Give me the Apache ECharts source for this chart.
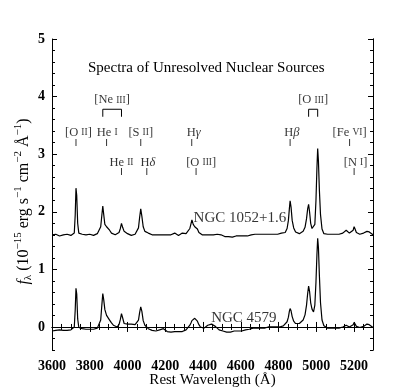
<!DOCTYPE html>
<html><head><meta charset="utf-8">
<script src="https://cdn.jsdelivr.net/npm/echarts@6/dist/echarts.min.js"></script>
<style>html,body{margin:0;padding:0;background:#fff}#c{width:415px;height:389px}</style>
</head><body><div id="c"></div>
<script>
// Rest wavelength (Å)
const wavelength = [
3600,3610,3620,3630,3640,3650,3660,3670,3680,3690,
3700,3710,3718,3723,3727,3731,3736,3742,3750,3760,
3770,3780,3790,3800,3810,3820,3830,3840,3850,3858,
3864,3869,3874,3880,3889,3895,3905,3915,3925,3935,
3945,3955,3962,3968,3974,3982,3990,4000,4010,4020,
4030,4040,4050,4058,4064,4070,4076,4083,4092,4102,
4110,4120,4130,4140,4150,4160,4170,4180,4190,4200,
4210,4220,4230,4240,4250,4260,4270,4280,4290,4300,
4310,4320,4330,4336,4341,4348,4356,4363,4370,4378,
4386,4395,4405,4415,4425,4435,4445,4455,4465,4475,
4485,4495,4505,4515,4525,4535,4545,4555,4565,4575,
4585,4595,4605,4615,4625,4635,4645,4655,4665,4675,
4685,4695,4705,4715,4725,4735,4745,4755,4765,4775,
4785,4795,4805,4815,4825,4835,4845,4852,4857,4861,
4866,4872,4880,4890,4900,4910,4920,4930,4940,4948,
4954,4959,4964,4970,4977,4985,4992,4998,5003,5007,
5011,5016,5022,5030,5040,5050,5060,5070,5080,5090,
5100,5110,5120,5130,5140,5150,5158,5163,5168,5175,
5185,5195,5200,5205,5212,5220,5230,5240,5250,5260,
5268,5274,5280,5290,5300];
// NGC 1052 flux as plotted (offset by +1.6)
const ngc1052 = [
1.60,1.59,1.61,1.60,1.58,1.59,1.60,1.59,1.61,1.60,
1.59,1.60,1.63,1.95,2.41,2.28,1.80,1.63,1.60,1.61,
1.59,1.60,1.60,1.61,1.60,1.59,1.61,1.62,1.65,1.74,
1.94,2.10,1.95,1.78,1.74,1.72,1.68,1.63,1.61,1.60,
1.61,1.64,1.71,1.80,1.73,1.66,1.63,1.62,1.60,1.59,
1.60,1.61,1.63,1.72,1.90,2.05,1.92,1.74,1.66,1.68,
1.63,1.61,1.60,1.59,1.60,1.59,1.60,1.59,1.60,1.59,
1.60,1.59,1.60,1.61,1.63,1.60,1.59,1.61,1.63,1.60,
1.62,1.65,1.71,1.79,1.86,1.78,1.74,1.76,1.70,1.64,
1.61,1.60,1.59,1.60,1.61,1.60,1.59,1.60,1.59,1.61,
1.62,1.60,1.58,1.57,1.58,1.57,1.58,1.56,1.57,1.58,
1.57,1.58,1.57,1.58,1.59,1.58,1.59,1.60,1.62,1.61,
1.63,1.61,1.60,1.61,1.60,1.61,1.62,1.61,1.62,1.61,
1.62,1.61,1.62,1.63,1.62,1.64,1.71,1.85,2.05,2.19,
2.08,1.85,1.72,1.65,1.63,1.62,1.63,1.66,1.73,1.88,
2.05,2.13,2.00,1.80,1.71,1.68,1.78,2.20,2.75,3.10,
2.88,2.38,1.95,1.70,1.62,1.60,1.61,1.60,1.61,1.60,
1.61,1.60,1.61,1.62,1.63,1.64,1.68,1.70,1.66,1.63,
1.64,1.68,1.74,1.70,1.64,1.62,1.61,1.62,1.63,1.64,
1.66,1.67,1.65,1.62,1.60];
// NGC 4579 flux
const ngc4579 = [
-0.07,-0.08,-0.06,-0.07,-0.05,-0.07,-0.06,-0.04,-0.06,-0.03,
-0.05,-0.03,0.00,0.30,0.67,0.57,0.14,-0.01,-0.04,-0.03,
-0.05,-0.04,-0.03,-0.04,-0.05,-0.04,-0.03,-0.02,0.01,0.12,
0.38,0.58,0.47,0.30,0.20,0.17,0.12,0.07,0.03,0.01,
0.00,0.04,0.13,0.23,0.16,0.06,0.04,0.05,0.04,0.05,
0.03,0.04,0.06,0.12,0.25,0.35,0.27,0.11,0.03,0.02,
-0.03,-0.05,-0.06,-0.05,-0.07,-0.06,-0.05,-0.04,-0.03,-0.06,
-0.08,-0.10,-0.09,-0.10,-0.08,-0.09,-0.08,-0.07,-0.08,-0.06,
-0.05,-0.02,0.03,0.07,0.11,0.13,0.15,0.14,0.10,0.04,
0.00,-0.03,-0.02,0.00,0.03,0.04,0.05,0.03,0.01,-0.02,
-0.05,-0.06,-0.07,-0.08,-0.09,-0.08,-0.09,-0.08,-0.07,-0.08,
-0.07,-0.06,-0.07,-0.06,-0.05,-0.05,-0.04,-0.03,-0.02,-0.01,
-0.02,-0.01,-0.02,-0.01,-0.02,-0.01,0.00,-0.01,0.00,-0.01,
0.00,0.01,0.00,0.01,0.02,0.04,0.09,0.17,0.27,0.32,
0.28,0.18,0.10,0.06,0.05,0.06,0.08,0.12,0.21,0.38,
0.58,0.71,0.62,0.42,0.31,0.26,0.38,0.78,1.25,1.54,
1.38,0.90,0.42,0.12,0.02,-0.01,-0.02,-0.03,-0.02,-0.03,
-0.02,-0.03,-0.02,-0.01,0.00,0.01,0.03,0.04,0.02,0.00,
0.01,0.04,0.08,0.05,0.01,0.00,-0.01,0.00,0.01,0.03,
0.05,0.06,0.04,0.01,-0.01];

// Line identification labels
const lineLabels = ['[O {sc|II}]','He {sc|I}','[S {sc|II}]','H{it|γ}','H{it|β}','[Fe {sc|VI}]',
                    'He {sc|II}','H{it|δ}','[O {sc|III}]','[N {sc|I}]','[Ne {sc|III}]','[O {sc|III}]'];
const labelWave = [3740,3892,4070,4350,4870,5176,3968,4108,4390,5208,3918,4983];
const labelFlux = [3.37,3.37,3.37,3.37,3.37,3.37,2.86,2.86,2.86,2.86,3.94,3.94];
// Identification tick marks
const markWave = [3727,3889,4070,4340,4861,5176,3968,4102,4363,5200];
const markFlux = [3.205,3.205,3.205,3.205,3.205,3.205,2.70,2.70,2.70,2.70];
// Doublet brackets
const neBracket = [3869,3968];
const oBracket = [4959,5007];
const bracketLow = 3.65, bracketHigh = 3.78;
// Spectrum names
const specNames = ['NGC 1052+1.6','NGC 4579'];
const specNameWave = [4350,4616];
const specNameFlux = [1.89,0.16];

const FONT = 'Liberation Serif';

const chart = echarts.init(document.getElementById('c'));
const axisLine = {show:true, lineStyle:{color:'#000', width:1}};
function xa(pos, interval, len, labels){
  return {type:'value', min:3600, max:5300, interval:interval, position:pos, splitLine:{show:false},
    axisLine: axisLine, axisTick:{show:true, inside:true, length:len, lineStyle:{color:'#000'}},
    axisLabel: labels ? {show:true, color:'#000', fontFamily:FONT, fontWeight:'bold', fontSize:14, margin:9,
      showMaxLabel:false, formatter: v => String(v)} : {show:false}};
}
function ya(pos, interval, len, labels){
  return {type:'value', min:-0.4, max:5, interval:interval, position:pos, splitLine:{show:false},
    axisLine: axisLine, axisTick:{show:true, inside:true, length:len, lineStyle:{color:'#000'}},
    axisLabel: labels ? {show:true, color:'#000', fontFamily:FONT, fontWeight:'bold', fontSize:14, margin:7,
      formatter: v => (Math.abs(v - Math.round(v)) < 1e-6 ? String(Math.round(v)) : '')} : {show:false}};
}
const xMain = xa('bottom', 200, 5, true);
xMain.name = 'Rest Wavelength (Å)';
xMain.nameLocation = 'middle';
xMain.nameGap = 23;
xMain.nameMoveOverlap = false;
xMain.nameTextStyle = {fontFamily:FONT, fontSize:15, color:'#000'};
const xMinor = xa('bottom', 50, 3, false); xMinor.axisLine = {show:false};
const xTopMinor = xa('top', 50, 3, false); xTopMinor.axisLine = {show:false};
const yMain = ya('left', 0.2, 3, true);
yMain.name = '{it|f}{sub|λ} (10{sup|−15} erg s{sup|−1} cm{sup|−2} Å{sup|−1})';
yMain.nameLocation = 'middle';
yMain.nameRotate = 90;
yMain.nameGap = 18;
yMain.nameMoveOverlap = false;
yMain.nameTextStyle = {fontFamily:FONT, fontSize:16, color:'#000', lineHeight:21, padding:[0,14,0,0],
  rich:{
    it:{fontFamily:FONT, fontSize:16, fontStyle:'italic', color:'#000', lineHeight:21},
    sub:{fontFamily:FONT, fontSize:11, color:'#000', verticalAlign:'bottom', lineHeight:13},
    sup:{fontFamily:FONT, fontSize:11, color:'#000', verticalAlign:'top', lineHeight:13}
  }};
const yMajor = ya('left', 1, 5, false);
yMajor.axisTick.customValues = [0,1,2,3,4,5];
yMajor.axisLine = {show:false};
const yRightMajor = ya('right', 1, 5, false);
yRightMajor.axisTick.customValues = [0,1,2,3,4,5];

const rich = {
  sc:{fontFamily:FONT, fontSize:9.5, color:'#000'},
  it:{fontFamily:FONT, fontSize:12.5, fontStyle:'italic', color:'#000'}
};

const option = {
  animation:false,
  backgroundColor:'#fff',
  title:{text:'Spectra of Unresolved Nuclear Sources', left:83, top:56,
    textStyle:{fontFamily:FONT, fontSize:15, fontWeight:'normal', color:'#000'}},
  grid:{left:52, right:42, top:39, bottom:39, containLabel:false, outerBoundsMode:'none'},
  xAxis:[xMain, xMinor, xa('top',200,5,false), xTopMinor],
  yAxis:[yMain, yMajor, ya('right',0.2,3,false), yRightMajor],
  series:[
    {type:'line', xAxisIndex:0, yAxisIndex:0, showSymbol:false, symbol:'none',
     lineStyle:{color:'#000', width:1.2}, data: wavelength.map((w,i)=>[w, ngc1052[i]])},
    {type:'line', xAxisIndex:0, yAxisIndex:0, showSymbol:false, symbol:'none',
     lineStyle:{color:'#000', width:1.2}, data: wavelength.map((w,i)=>[w, ngc4579[i]])},
    {type:'scatter', xAxisIndex:0, yAxisIndex:0, symbol:'rect', symbolSize:[1,7],
     itemStyle:{color:'#000'}, data: markWave.map((w,i)=>[w, markFlux[i]])},
    {type:'line', xAxisIndex:0, yAxisIndex:0, symbol:'none', lineStyle:{color:'#000', width:1},
     data:[[neBracket[0],bracketLow],[neBracket[0],bracketHigh],[neBracket[1],bracketHigh],[neBracket[1],bracketLow]]},
    {type:'line', xAxisIndex:0, yAxisIndex:0, symbol:'none', lineStyle:{color:'#000', width:1},
     data:[[oBracket[0],bracketLow],[oBracket[0],bracketHigh],[oBracket[1],bracketHigh],[oBracket[1],bracketLow]]},
    {type:'scatter', xAxisIndex:0, yAxisIndex:0, symbolSize:0,
     label:{show:true, position:'inside', color:'#000', fontFamily:FONT, fontSize:12.5, formatter: p => p.name, rich: rich},
     data: lineLabels.map((t,i)=>({name:t, value:[labelWave[i], labelFlux[i]]}))},
    {type:'scatter', xAxisIndex:0, yAxisIndex:0, symbolSize:0,
     label:{show:true, position:'inside', color:'#000', fontFamily:FONT, fontSize:15, formatter: p => p.name},
     data: [{name:specNames[0], value:[specNameWave[0], specNameFlux[0]], label:{align:'left'}},
            {name:specNames[1], value:[specNameWave[1], specNameFlux[1]]}]}
  ]
};
chart.setOption(option);
</script></body></html>
